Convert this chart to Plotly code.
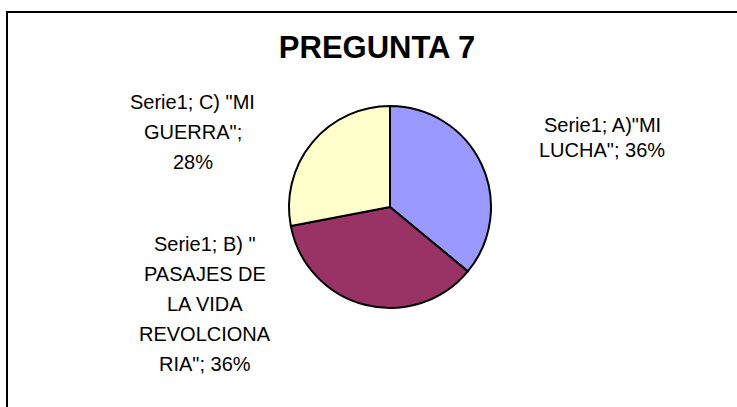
import plotly.graph_objects as go

# Chart data
title = "PREGUNTA 7"
series_name = "Serie1"
categories = ['A)"MI\nLUCHA"', 'B) "\nPASAJES DE\nLA VIDA\nREVOLCIONA\nRIA"', 'C) "MI\nGUERRA"']
values = [36, 36, 28]
pct_sep = ["; ", "; ", ";\n"]  # where Excel wrapped before the percentage
colors = ["#9999FF", "#993366", "#FFFFCC"]

W, H = 737, 407

# pie centre / radius in pixels
cx, cy, r = 390, 207, 101

fig = go.Figure(go.Pie(
    labels=categories,
    values=values,
    sort=False,
    direction="clockwise",
    rotation=0,
    textinfo="none",
    hoverinfo="label+percent",
    marker=dict(colors=colors, line=dict(color="black", width=2)),
    domain=dict(x=[(cx - r) / W, (cx + r) / W],
                y=[(H - cy - r) / H, (H - cy + r) / H]),
    showlegend=False,
))

# Excel style data labels: centre x, first line y, line step (px)
total = sum(values)
label_pos = [(602, 125, 25), (205, 244, 30), (193, 102, 30)]
annotations = []
for cat, v, sep, (lx, ly, step) in zip(categories, values, pct_sep, label_pos):
    pct = round(100 * v / total)
    txt = f"{series_name}; {cat}{sep}{pct}%"
    for i, line in enumerate(txt.split("\n")):
        annotations.append(dict(
            text=line, x=lx / W, y=1 - (ly + i * step) / H,
            xref="paper", yref="paper",
            xanchor="center", yanchor="middle", showarrow=False,
            font=dict(family="Liberation Sans, Arial", size=20, color="black"),
        ))

fig.update_layout(
    width=W, height=H,
    margin=dict(l=0, r=0, t=0, b=0),
    paper_bgcolor="white",
    plot_bgcolor="white",
    title=dict(text="<b>" + title + "</b>", x=377 / W, y=1 - 47 / H,
               xanchor="center", yanchor="middle",
               font=dict(family="Liberation Sans, Arial", size=31, color="black")),
    annotations=annotations,
    shapes=[dict(type="rect", xref="paper", yref="paper",
                 x0=7 / W, x1=1.05, y0=-0.05, y1=1 - 12 / H,
                 line=dict(color="black", width=2))],
)

# drop the page's default body margin so the figure sits at (0, 0)
fig.write_html("out.html", config={"displayModeBar": False},
               post_script="document.body.style.margin = '0';")
